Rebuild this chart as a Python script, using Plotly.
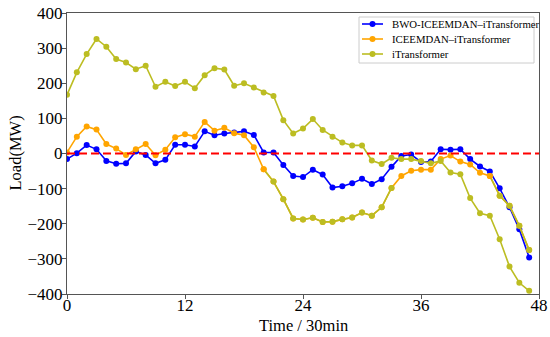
import plotly.graph_objects as go

x_vals = list(range(48))

bwo_iceemdan_itrans = [-16, 1, 24, 12, -21, -29, -28, 6, -4, -28,
                       -18, 25, 25, 20, 63, 52, 57, 60, 63, 53,
                       3, 3, -33, -64, -67, -46, -60, -97, -93, -85,
                       -72, -87, -73, -38, -7, -3, -24, -23, 12, 11,
                       12, -16, -37, -51, -99, -153, -216, -296]

iceemdan_itrans = [3, 48, 77, 68, 27, 14, -4, 12, 27, -5,
                   11, 46, 55, 48, 90, 65, 73, 58, 52, 18,
                   -45, -80, -130, -185, -188, -183, -195, -194, -187, -182,
                   -168, -177, -153, -98, -64, -49, -46, -46, -16, -6,
                   -23, -31, -55, -64, -120, -149, -206, -275]

itrans = [167, 231, 283, 326, 304, 269, 259, 240, 250, 190,
          204, 192, 204, 186, 223, 243, 239, 193, 200, 188,
          174, 164, 95, 57, 71, 98, 67, 48, 31, 23,
          23, -20, -30, -12, -16, -16, -21, -28, -21, -54,
          -59, -127, -170, -177, -244, -322, -368, -391]

names = ["BWO-ICEEMDAN\u2013iTransformer", "ICEEMDAN\u2013iTransformer", "iTransformer"]
x_ticks = [0, 12, 24, 36, 48]
y_ticks = [-400, -300, -200, -100, 0, 100, 200, 300, 400]

BLUE = "#0000FF"
ORANGE = "#FFA500"
OLIVE = "#BCBD22"
FONT = "Liberation Serif"
colors = [BLUE, ORANGE, OLIVE]
series = [bwo_iceemdan_itrans, iceemdan_itrans, itrans]

W, H = 550, 337
L, T, R, B = 67, 13, 11, 43
PW, PH = W - L - R, H - T - B

fig = go.Figure()
for nm, ys, c in zip(names, series, colors):
    fig.add_trace(go.Scatter(x=x_vals, y=ys, name=nm, mode="lines+markers", showlegend=False,
                             line=dict(color=c, width=1.6), marker=dict(size=6, color=c)))

# segments of the ICEEMDAN curve that appear olive in the reference picture
for a, b in [(20, 34), (43, 48)]:
    cols = [ORANGE] + [OLIVE] * (b - a - 1)
    fig.add_trace(go.Scatter(x=x_vals[a:b], y=iceemdan_itrans[a:b], mode="lines+markers",
                             line=dict(color=OLIVE, width=1.6), marker=dict(size=6, color=cols),
                             showlegend=False, hoverinfo="skip"))

fig.add_trace(go.Scatter(x=[0, 48], y=[0, 0], mode="lines", showlegend=False,
                         line=dict(color="red", width=2, dash="8px,4px"), hoverinfo="skip"))


def px_x(fx):
    return (fx - L) / PW


def px_y(fy):
    return (H - B - fy) / PH


# compact legend box, drawn to match the reference legend
shapes = [dict(type="rect", xref="paper", yref="paper",
               x0=px_x(359), x1=px_x(534), y0=px_y(63), y1=px_y(17),
               line=dict(color="#cccccc", width=1), fillcolor="white", layer="above")]
annotations = []
for i, (nm, c) in enumerate(zip(names, colors)):
    fy = 24 + 15 * i
    shapes.append(dict(type="line", xref="paper", yref="paper",
                       x0=px_x(362), x1=px_x(383), y0=px_y(fy), y1=px_y(fy),
                       line=dict(color=c, width=1.6), layer="above"))
    shapes.append(dict(type="circle", xref="paper", yref="paper",
                       x0=px_x(369.5), x1=px_x(375.5), y0=px_y(fy + 3), y1=px_y(fy - 3),
                       line=dict(color=c, width=0), fillcolor=c, layer="above"))
    annotations.append(dict(text=nm, xref="paper", yref="paper", x=px_x(390), y=px_y(fy),
                            xanchor="left", yanchor="middle", showarrow=False,
                            font=dict(family=FONT, size=10.75, color="black")))

# axis titles
annotations.append(dict(text="Time / 30min", xref="paper", yref="paper", x=0.5, y=0,
                        xanchor="center", yanchor="middle", yshift=-31, showarrow=False,
                        font=dict(family=FONT, size=16.5, color="black")))
annotations.append(dict(text="Load(MW)", xref="paper", yref="paper", x=0, y=0.5,
                        xanchor="center", yanchor="middle", xshift=-52, textangle=-90,
                        showarrow=False, font=dict(family=FONT, size=16.5, color="black")))

fig.update_layout(
    width=W, height=H,
    margin=dict(l=L, r=R, t=T, b=B, autoexpand=False),
    paper_bgcolor="white", plot_bgcolor="white",
    font=dict(family=FONT, color="black", size=16),
    showlegend=False,
    shapes=shapes, annotations=annotations,
)
fig.update_xaxes(range=[0, 48], tickvals=x_ticks, ticktext=[str(v) for v in x_ticks],
                 showgrid=False, zeroline=False, showline=True, mirror=True, automargin=False,
                 linecolor="#555555", linewidth=1, ticks="outside", ticklen=4, tickcolor="#555555",
                 tickfont=dict(size=17, family=FONT), ticklabeloverflow="allow",
                 ticklabelstandoff=-8)
fig.update_yaxes(range=[-400, 400], tickvals=y_ticks,
                 ticktext=[("\u2212" + str(-v)) if v < 0 else str(v) for v in y_ticks],
                 showgrid=False, zeroline=False, showline=True, mirror=True, automargin=False,
                 linecolor="#555555", linewidth=1, ticks="outside", ticklen=4, tickcolor="#555555",
                 tickfont=dict(size=17, family=FONT), ticklabeloverflow="allow",
                 ticklabelstandoff=-4)

fig.write_html("out.html", config={"displayModeBar": False},
               post_script="document.body.style.margin='0';document.body.style.overflow='hidden';")
